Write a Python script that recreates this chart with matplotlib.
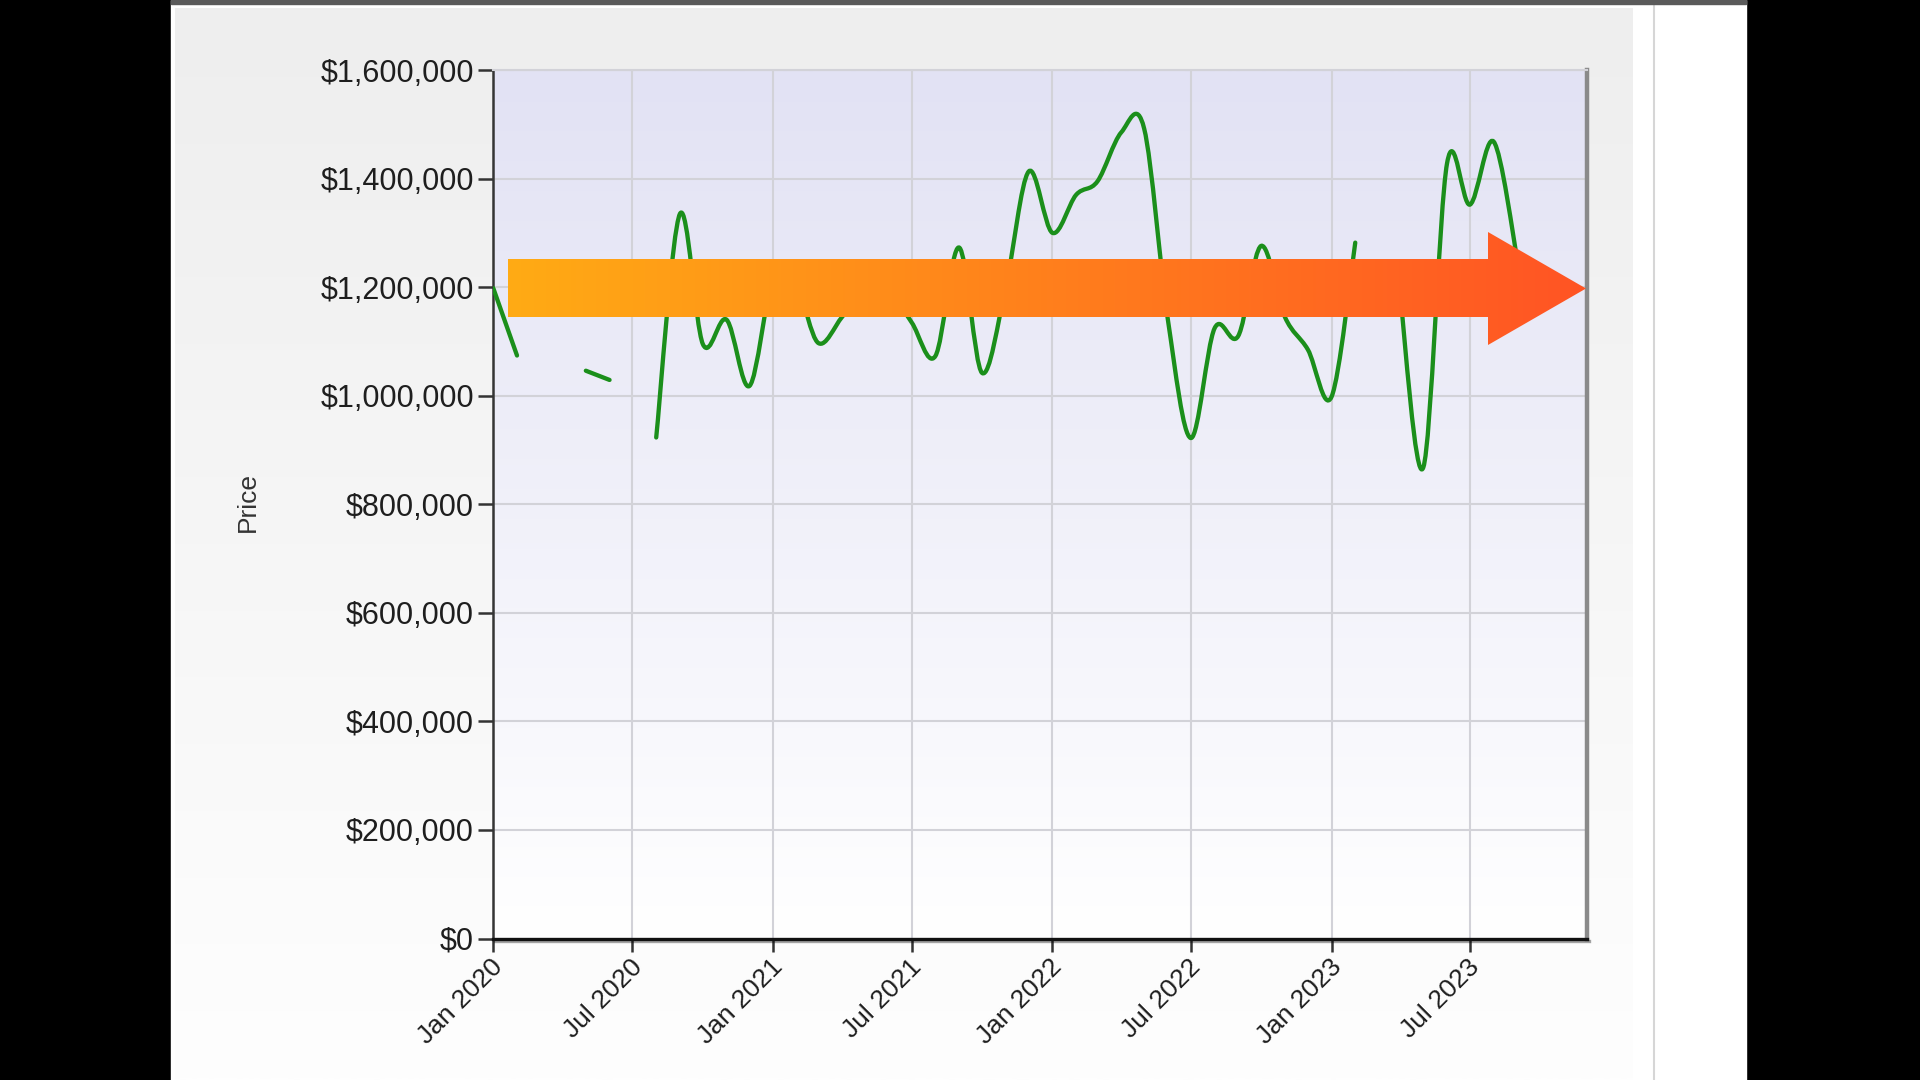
import numpy as np
import pandas as pd
import matplotlib
matplotlib.use("Agg")
import matplotlib.pyplot as plt
import matplotlib.dates as mdates
import matplotlib.transforms as mtransforms
from matplotlib.path import Path
from matplotlib.patches import PathPatch, Polygon, Rectangle
import matplotlib.patheffects as pe
from matplotlib.ticker import FuncFormatter

plt.rcParams['font.family'] = ['Liberation Sans', 'DejaVu Sans']

# ---------------- data ----------------
months = pd.date_range("2020-01-01", "2023-09-01", freq="MS")
prices = [
    1198000, 1074000, np.nan, np.nan, 1046000, 1029000,          # 2020 Jan-Jun
    np.nan, 923000, 1335000, 1095000, 1140000, 1018000,          # 2020 Jul-Dec
    1215000, 1200000, 1097000, 1145000, 1200000, 1195000,        # 2021 Jan-Jun
    1135000, 1073000, 1273000, 1042000, 1200000, 1413000,        # 2021 Jul-Dec
    1300000, 1370000, 1395000, 1485000, 1492000, 1140000,        # 2022 Jan-Jun
    922000, 1124000, 1110000, 1276000, 1145000, 1085000,         # 2022 Jul-Dec
    998000, 1282000, np.nan, 1180000, 868000, 1428000,           # 2023 Jan-Jun
    1352000, 1468000, 1250000,                                   # 2023 Jul-Sep
]
x_tick_dates = ["2020-01-01", "2020-07-01", "2021-01-01", "2021-07-01",
                "2022-01-01", "2022-07-01", "2023-01-01", "2023-07-01"]
x_tick_labels = ["Jan 2020", "Jul 2020", "Jan 2021", "Jul 2021",
                 "Jan 2022", "Jul 2022", "Jan 2023", "Jul 2023"]
y_ticks = [0, 200000, 400000, 600000, 800000, 1000000, 1200000, 1400000, 1600000]
y_label = "Price"
x_range = ["2020-01-01", "2023-12-01"]

# ---------------- figure ----------------
W, H = 1920, 1080
fig = plt.figure(figsize=(19.2, 10.8), dpi=100, facecolor="black")

# background decoration (pixel coordinates)
bg = fig.add_axes([0, 0, 1, 1], zorder=0)
bg.set_xlim(0, W); bg.set_ylim(H, 0); bg.axis("off")
bg.add_patch(Rectangle((171, 0), 1575, H, color="white", zorder=0))
bg.add_patch(Rectangle((171, 0), 1575, 4, color="#5a5a5a", zorder=3))
g = np.linspace(0, 1, 256)[:, None]
top_c = np.array([238, 238, 238]) / 255; bot_c = np.array([254, 254, 254]) / 255
grad = (top_c[None, :] * (1 - g) + bot_c[None, :] * g)[:, None, :]
bg.imshow(grad, extent=(175, 1633, H, 8), aspect="auto", zorder=1, interpolation="bilinear")
bg.plot([1654, 1654], [4, H], color="#d6d6d6", lw=1.5, zorder=2)
top_p = np.array([226, 226, 244]) / 255; bot_p = np.array([255, 255, 255]) / 255
gradp = (top_p[None, :] * (1 - g) + bot_p[None, :] * g)[:, None, :]
bg.imshow(gradp, extent=(493, 1587, 938, 70), aspect="auto", zorder=2, interpolation="bilinear")
bg.set_xlim(0, W); bg.set_ylim(H, 0)

# ---------------- main axes ----------------
L, R, T, B = 493.3, 1587.0, 70.0, 938.5
ax = fig.add_axes([L / W, (H - B) / H, (R - L) / W, (B - T) / H], zorder=1)
ax.set_facecolor("none")

xs_all = mdates.date2num(months.to_pydatetime())
ys_all = np.array(prices, dtype=float)


def cardinal_path(xs, ys, tension=0.5):
    verts, codes = [], []
    ok = np.isfinite(ys)
    i = 0
    n = len(xs)
    while i < n:
        if not ok[i]:
            i += 1
            continue
        j = i
        while j < n and ok[j]:
            j += 1
        P = np.column_stack([xs[i:j], ys[i:j]])
        m = len(P)
        if m >= 2:
            verts.append(P[0]); codes.append(Path.MOVETO)
            for k in range(m - 1):
                p_prev = P[k - 1] if k > 0 else P[k]
                p_next2 = P[k + 2] if k + 2 < m else P[k + 1]
                c1 = P[k] + tension / 3.0 * (P[k + 1] - p_prev)
                c2 = P[k + 1] - tension / 3.0 * (p_next2 - P[k])
                verts += [c1, c2, P[k + 1]]
                codes += [Path.CURVE4] * 3
        i = j
    return Path(np.array(verts), codes)


line = PathPatch(cardinal_path(xs_all, ys_all), fill=False, edgecolor="#1b8f1b",
                 lw=3.1, capstyle="round", joinstyle="round", zorder=3)
ax.add_patch(line)

ax.set_xlim(mdates.datestr2num(x_range[0]), mdates.datestr2num(x_range[1]))
ax.set_ylim(y_ticks[0], y_ticks[-1])
ax.set_yticks(y_ticks)
ax.yaxis.set_major_formatter(FuncFormatter(lambda v, p: "${:,.0f}".format(v)))
ax.set_xticks(mdates.datestr2num(x_tick_dates))
ax.set_xticklabels(x_tick_labels)

ax.grid(True, color="#d2d2d8", lw=1.5, zorder=1)
ax.set_axisbelow(True)

ax.tick_params(axis="y", length=10.5, width=1.8, color="#333333", pad=3.5,
               labelsize=22, labelcolor="#1e1e1e")
ax.tick_params(axis="x", length=9, width=1.8, color="#333333", pad=9,
               labelsize=19, labelcolor="#1e1e1e")
shift = mtransforms.ScaledTranslation(6 / 100, 0, fig.dpi_scale_trans)
for lab in ax.get_xticklabels():
    lab.set_rotation(45)
    lab.set_ha("right")
    lab.set_va("center")
    lab.set_rotation_mode("anchor")
    lab.set_transform(lab.get_transform() + shift)

ax.spines["top"].set_color("#d2d2d8")
ax.spines["top"].set_linewidth(1.5)
ax.spines["left"].set_color("#353535")
ax.spines["left"].set_linewidth(1.8)
ax.spines["bottom"].set_color("#111111")
ax.spines["bottom"].set_linewidth(2.4)
ax.spines["bottom"].set_path_effects([
    pe.SimpleLineShadow(offset=(1.5, -2), shadow_color="#000000", alpha=0.35),
    pe.Normal()])
ax.spines["right"].set_color("#8a8a8a")
ax.spines["right"].set_linewidth(3.2)

fig.text(248 / W, 1 - 502 / H, y_label, rotation=90, ha="center", va="center",
         fontsize=19, color="#333333")

# ---------------- arrow overlay ----------------
ov = fig.add_axes([0, 0, 1, 1], zorder=3)
ov.set_facecolor("none"); ov.axis("off")
ov.set_xlim(0, W); ov.set_ylim(H, 0)
arrow_pts = [(508, 259), (1488, 259), (1488, 232), (1586, 288.5),
             (1488, 345), (1488, 317), (508, 317)]
poly = Polygon(arrow_pts, closed=True, facecolor="none", edgecolor="none")
ov.add_patch(poly)
gx = np.linspace(0, 1, 512)[None, :]
c_left = np.array([255, 171, 20]) / 255
c_right = np.array([255, 84, 36]) / 255
agrad = (c_left[None, None, :] * (1 - gx[..., None]) + c_right[None, None, :] * gx[..., None])
im = ov.imshow(agrad, extent=(508, 1586, 345, 232), aspect="auto", interpolation="bilinear")
im.set_clip_path(poly)
ov.set_xlim(0, W); ov.set_ylim(H, 0)

fig.savefig("out.png", dpi=100, facecolor=fig.get_facecolor())
